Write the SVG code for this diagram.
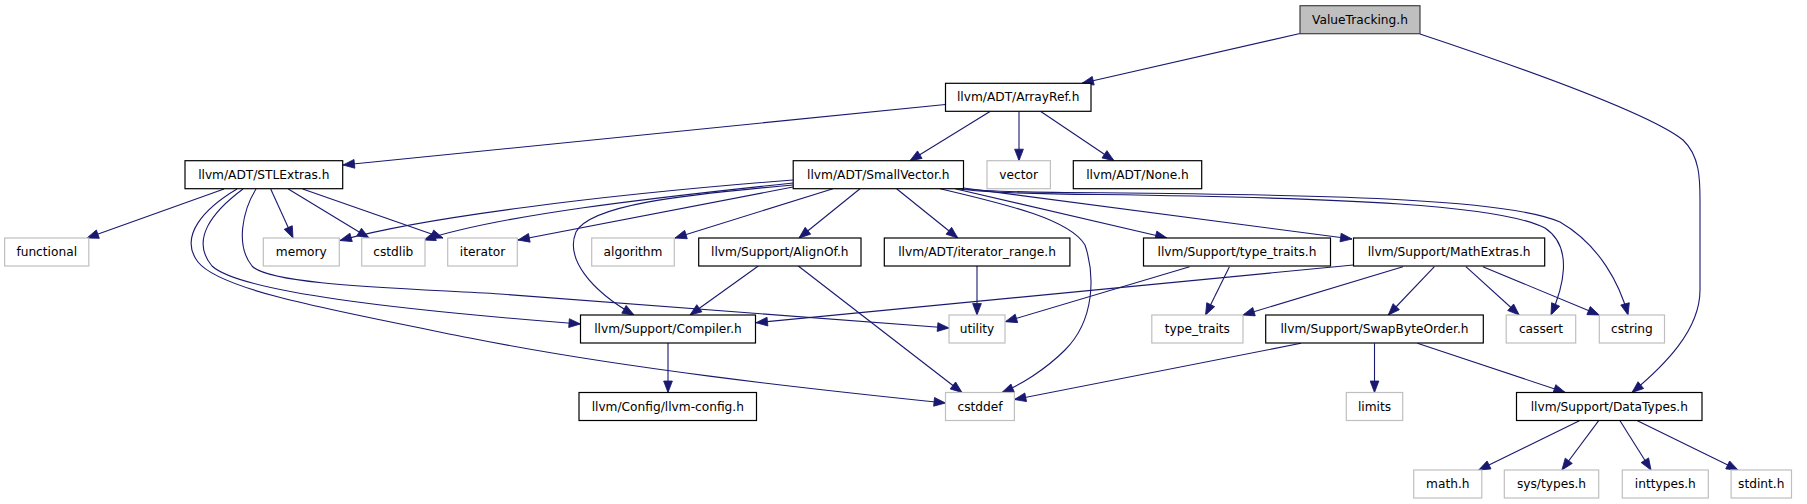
<svg xmlns="http://www.w3.org/2000/svg" width="1807" height="504" viewBox="0 0 1807 504">
<defs>
<style>
.n rect{fill:#fff;stroke:#000;stroke-width:1.2}
.g rect{fill:#fff;stroke:#bfbfbf;stroke-width:1.2}
.r rect{fill:#bfbfbf;stroke:#404040;stroke-width:1.2}
text{font-family:"DejaVu Sans",sans-serif;font-size:12.2px;fill:#000;text-anchor:middle}
#edges path{fill:none;stroke:#191970;stroke-width:1.1;marker-end:url(#ah)}
</style>
<marker id="ah" markerUnits="userSpaceOnUse" markerWidth="13" markerHeight="10" viewBox="-13 -5 13 10" refX="0" refY="0" orient="auto">
<path d="M0,0 L-11.5,-4.4 L-11.5,4.4 Z" fill="#191970" stroke="#191970" stroke-width="0.8"/>
</marker>
</defs>
<rect width="1807" height="504" fill="#fff"/>
<g id="edges">
<path d="M1300,33.5 L1082,83.3"/>
<path d="M1420,34 C1540,74 1650,114 1683,140 C1700,156 1700,180 1700,200 L1700,290 C1700,330 1665,365 1632,392.5"/>
<path d="M945.5,104.5 L343,165"/>
<path d="M990,111.5 L910,160.7"/>
<path d="M1019,111.5 L1019,160.7"/>
<path d="M1040.8,111.5 L1114,160.7"/>
<path d="M224,189 L87,238"/>
<path d="M270.7,189 L293,238"/>
<path d="M288.3,189 L369,238"/>
<path d="M302.7,189 L443,238"/>
<path d="M237,189 C205,208 178,236 198,262 C220,290 330,310 470,338 C620,368 800,388 945.5,403"/>
<path d="M243,189 C212,212 190,240 212,266 C240,292 400,310 580.5,324"/>
<path d="M256,189 C243,210 235,245 252,266 C270,285 400,288 500,294 C700,308 850,320 949,328"/>
<path d="M793,180 C600,195 420,218 340,240.5"/>
<path d="M793,183 C650,198 500,215 424,240"/>
<path d="M793,187 L518,240"/>
<path d="M793,185 C680,195 590,205 576,232 C565,258 590,290 634,315"/>
<path d="M833,188.7 L675,238"/>
<path d="M860,188.7 L799,238"/>
<path d="M896.6,188.7 L957.8,238"/>
<path d="M955,188.7 L1167,238"/>
<path d="M963.5,188 L1352,239"/>
<path d="M958,188.7 C985,192.5 1020,194 1100,194.5 C1350,198 1500,205 1545,228 C1575,248 1562,290 1551,315"/>
<path d="M961,188.7 C988,191.5 1020,192.5 1100,192.8 C1350,195 1510,200 1560,222 C1600,245 1620,285 1628,315"/>
<path d="M940,188.7 C1010,205 1070,220 1085,245 C1095,275 1095,320 1065,350 C1045,370 1020,385 1002,392.5"/>
<path d="M758.3,266 L690,315"/>
<path d="M798.3,266 L962,392.5"/>
<path d="M977,266 L977,315"/>
<path d="M1189.6,266.7 L1005.4,321.7"/>
<path d="M1229.4,266.7 L1205.6,315"/>
<path d="M1353.4,265 L756,322.7"/>
<path d="M1402.9,266.7 L1243,315"/>
<path d="M1434.4,266.7 L1388.3,315"/>
<path d="M1465.9,266.7 L1519.2,315"/>
<path d="M1482.9,266.7 L1599.2,315"/>
<path d="M668,343 L668,392.5"/>
<path d="M1301,343.3 L1014.4,399.5"/>
<path d="M1374.5,343.3 L1374.5,392.5"/>
<path d="M1417.4,343.3 L1565.3,392.5"/>
<path d="M1579.4,420.7 L1478.7,470"/>
<path d="M1598.7,420.7 L1561.9,470"/>
<path d="M1620,420.7 L1651,470"/>
<path d="M1637.4,420.7 L1738,470"/>
</g>
<g id="n_valuetracking" class="r"><rect x="1300" y="5.7" width="120" height="28"/><text x="1360" y="23.7">ValueTracking.h</text></g>
<g id="n_arrayref" class="n"><rect x="945.5" y="83.3" width="145.5" height="28"/><text x="1018.2" y="101.3">llvm/ADT/ArrayRef.h</text></g>
<g id="n_stlextras" class="n"><rect x="185" y="160.7" width="157.7" height="28"/><text x="263.8" y="178.7">llvm/ADT/STLExtras.h</text></g>
<g id="n_smallvector" class="n"><rect x="793.2" y="160.7" width="170.3" height="28"/><text x="878.3" y="178.7">llvm/ADT/SmallVector.h</text></g>
<g id="n_vector" class="g"><rect x="987" y="160.7" width="63.4" height="28"/><text x="1018.7" y="178.7">vector</text></g>
<g id="n_none" class="n"><rect x="1073.3" y="160.7" width="128.4" height="28"/><text x="1137.5" y="178.7">llvm/ADT/None.h</text></g>
<g id="n_functional" class="g"><rect x="4.6" y="238" width="84.2" height="28"/><text x="46.7" y="256">functional</text></g>
<g id="n_memory" class="g"><rect x="263.3" y="238" width="76" height="28"/><text x="301.3" y="256">memory</text></g>
<g id="n_cstdlib" class="g"><rect x="361.7" y="238" width="63.3" height="28"/><text x="393.3" y="256">cstdlib</text></g>
<g id="n_iterator" class="g"><rect x="447.7" y="238" width="69.6" height="28"/><text x="482.5" y="256">iterator</text></g>
<g id="n_algorithm" class="g"><rect x="591.7" y="238" width="82.6" height="28"/><text x="633" y="256">algorithm</text></g>
<g id="n_alignof" class="n"><rect x="698.7" y="238" width="162.3" height="28"/><text x="779.8" y="256">llvm/Support/AlignOf.h</text></g>
<g id="n_iterator_range" class="n"><rect x="884.3" y="238" width="185.6" height="28"/><text x="977.1" y="256">llvm/ADT/iterator_range.h</text></g>
<g id="n_type_traits_h" class="n"><rect x="1143.5" y="238" width="187" height="28"/><text x="1237" y="256">llvm/Support/type_traits.h</text></g>
<g id="n_mathextras" class="n"><rect x="1353.5" y="238" width="191.2" height="28"/><text x="1449.1" y="256">llvm/Support/MathExtras.h</text></g>
<g id="n_compiler" class="n"><rect x="580.5" y="315" width="175" height="28"/><text x="668" y="333">llvm/Support/Compiler.h</text></g>
<g id="n_utility" class="g"><rect x="949" y="315" width="56" height="28"/><text x="977" y="333">utility</text></g>
<g id="n_type_traits" class="g"><rect x="1151.8" y="315" width="91.2" height="28"/><text x="1197.4" y="333">type_traits</text></g>
<g id="n_swapbyteorder" class="n"><rect x="1265.7" y="315" width="217.6" height="28"/><text x="1374.5" y="333">llvm/Support/SwapByteOrder.h</text></g>
<g id="n_cassert" class="g"><rect x="1506.2" y="315" width="69.5" height="28"/><text x="1541" y="333">cassert</text></g>
<g id="n_cstring" class="g"><rect x="1599.3" y="315" width="65.2" height="28"/><text x="1631.9" y="333">cstring</text></g>
<g id="n_llvmconfig" class="n"><rect x="579" y="392.5" width="177.5" height="28"/><text x="667.8" y="410.5">llvm/Config/llvm-config.h</text></g>
<g id="n_cstddef" class="g"><rect x="945.5" y="392.5" width="68.9" height="28"/><text x="980" y="410.5">cstddef</text></g>
<g id="n_limits" class="g"><rect x="1346.3" y="392.5" width="56.4" height="28"/><text x="1374.5" y="410.5">limits</text></g>
<g id="n_datatypes" class="n"><rect x="1516.5" y="392.5" width="185.5" height="28"/><text x="1609.3" y="410.5">llvm/Support/DataTypes.h</text></g>
<g id="n_math" class="g"><rect x="1413.7" y="470" width="68.1" height="28"/><text x="1447.8" y="488">math.h</text></g>
<g id="n_systypes" class="g"><rect x="1504.3" y="470" width="94.4" height="28"/><text x="1551.5" y="488">sys/types.h</text></g>
<g id="n_inttypes" class="g"><rect x="1622.3" y="470" width="86" height="28"/><text x="1665.3" y="488">inttypes.h</text></g>
<g id="n_stdint" class="g"><rect x="1731.1" y="470" width="60.4" height="28"/><text x="1761.3" y="488">stdint.h</text></g>
</svg>
